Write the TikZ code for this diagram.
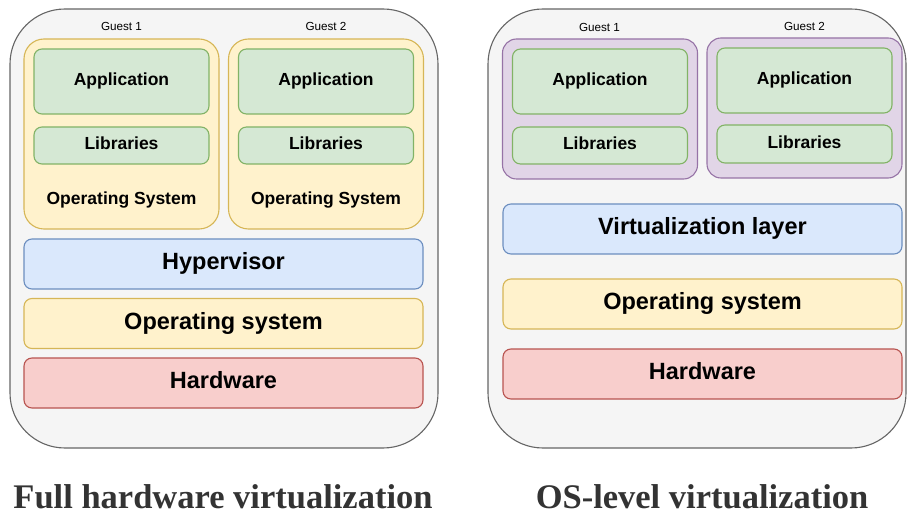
\documentclass[tikz,border=0pt]{standalone}
\usepackage{fontspec}
\setmainfont{Liberation Sans}
\newfontfamily\captionfont{Liberation Serif}
\usetikzlibrary{positioning}
\usepackage{xcolor}
\definecolor{hostfill}{HTML}{F5F5F5}
\definecolor{hostline}{HTML}{666666}
\definecolor{osfill}{HTML}{FFF2CC}
\definecolor{osline}{HTML}{D6B656}
\definecolor{appfill}{HTML}{D5E8D4}
\definecolor{appline}{HTML}{82B366}
\definecolor{virtfill}{HTML}{DAE8FC}
\definecolor{virtline}{HTML}{6C8EBF}
\definecolor{hwfill}{HTML}{F8CECC}
\definecolor{hwline}{HTML}{B85450}
\definecolor{ctfill}{HTML}{E1D5E7}
\definecolor{ctline}{HTML}{9673A6}
\definecolor{captext}{HTML}{333333}

\begin{document}
\begin{tikzpicture}[
    x=1pt, y=-1pt, line width=1.1pt,
    every node/.style={inner sep=0pt, outer sep=0pt},
    host/.style={draw=hostline, fill=hostfill, rounded corners=55pt,
      minimum width=#1, minimum height=439pt},
    box/.style={draw, rounded corners=8pt, align=center},
    layer/.style={box, minimum width=399pt, minimum height=50pt,
      font=\fontsize{23.5}{26}\selectfont\bfseries,
      text height=17.6pt, text depth=5.9pt},
    appbox/.style={box, draw=appline, fill=appfill, minimum width=175pt,
      font=\fontsize{17.5}{20}\selectfont\bfseries,
      text height=13.1pt, text depth=4.4pt},
    guestos/.style={box, rounded corners=20pt, draw=osline, fill=osfill,
      minimum width=195pt, minimum height=190pt},
    container/.style={box, rounded corners=14pt, draw=ctline, fill=ctfill,
      minimum width=195pt, minimum height=140pt},
    guest/.style={font=\fontsize{11.7}{13}\selectfont},
    gosname/.style={font=\fontsize{17.5}{20}\selectfont\bfseries,
      text height=13.1pt, text depth=4.4pt},
    caption/.style={font=\captionfont\fontsize{34.5}{38}\selectfont\bfseries,
      text=captext}]
  \useasboundingbox (0,0) rectangle (907,518);

  % full hardware virtualization
  \node[host=428pt] (fhost) at (224,228.5) {};
  \node[guest] (fg1) at (121.5,26) {Guest 1};
  \node[guest] (fg2) at (326,26) {Guest 2};
  \node[guestos] (fos1) at (121.5,134) {};
  \node[guestos] (fos2) at (326,134) {};
  \node[appbox, minimum height=65pt] (fapp1) at (121.5,81.5) {Application};
  \node[appbox, minimum height=37pt] (flib1) at (121.5,145.5) {Libraries};
  \node[appbox, minimum height=65pt] (fapp2) at (326,81.5) {Application};
  \node[appbox, minimum height=37pt] (flib2) at (326,145.5) {Libraries};
  \node[gosname] (fosname1) at (121.5,200) {Operating System};
  \node[gosname] (fosname2) at (326,200) {Operating System};
  \node[layer, draw=virtline, fill=virtfill] (hyp) at (223.5,264) {Hypervisor};
  \node[layer, draw=osline, fill=osfill] (fhostos) at (223.5,323.5) {Operating system};
  \node[layer, draw=hwline, fill=hwfill] (fhw) at (223.5,383) {Hardware};
  \node[caption] (fcap) at (223,497) {Full hardware virtualization};

  % OS-level virtualization
  \node[host=418pt] (ohost) at (697,228.5) {};
  \node[guest] (og1) at (599.5,27) {Guest 1};
  \node[guest] (og2) at (804.5,26) {Guest 2};
  \node[container] (ct1) at (600,109) {};
  \node[container] (ct2) at (804.5,108) {};
  \node[appbox, minimum height=65pt] (oapp1) at (600,81.5) {Application};
  \node[appbox, minimum height=37pt] (olib1) at (600,145.5) {Libraries};
  \node[appbox, minimum height=65pt] (oapp2) at (804.5,80.5) {Application};
  \node[appbox, minimum height=38pt] (olib2) at (804.5,144) {Libraries};
  \node[layer, draw=virtline, fill=virtfill] (vlayer) at (702.5,229) {Virtualization layer};
  \node[layer, draw=osline, fill=osfill] (ohostos) at (702.5,304) {Operating system};
  \node[layer, draw=hwline, fill=hwfill] (ohw) at (702.5,374) {Hardware};
  \node[caption] (ocap) at (702,497) {OS-level virtualization};
\end{tikzpicture}
\end{document}
